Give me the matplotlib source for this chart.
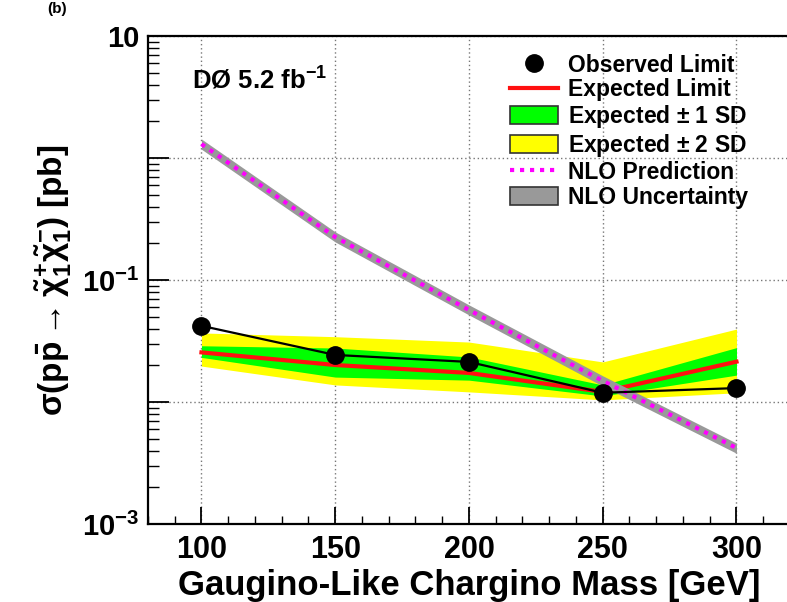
# Limite de seccion eficaz chargino (estilo ROOT)
import numpy as np
import matplotlib
matplotlib.use('Agg')
import matplotlib.pyplot as plt
import matplotlib.transforms as mtransforms
from matplotlib.lines import Line2D
from matplotlib.patches import Patch
from matplotlib.ticker import LogLocator, MultipleLocator, NullFormatter

plt.rcParams['font.family'] = ['Liberation Sans', 'DejaVu Sans']
plt.rcParams['font.weight'] = 'bold'
plt.rcParams['mathtext.fontset'] = 'custom'
plt.rcParams['mathtext.rm'] = 'Liberation Sans:bold'
plt.rcParams['mathtext.it'] = 'Liberation Sans:bold'
plt.rcParams['mathtext.bf'] = 'Liberation Sans:bold'
plt.rcParams['mathtext.sf'] = 'Liberation Sans:bold'
plt.rcParams['mathtext.default'] = 'rm'

# Datos
mass = [100, 150, 200, 250, 300]
observed = [0.0421, 0.0243, 0.0213, 0.0119, 0.0130]
expected = [0.0255, 0.0201, 0.0173, 0.0121, 0.0214]
sd1_lo = [0.0232, 0.0160, 0.0151, 0.0112, 0.0166]
sd1_hi = [0.0289, 0.0277, 0.0234, 0.0138, 0.0279]
sd2_lo = [0.0197, 0.0138, 0.0121, 0.0104, 0.0119]
sd2_hi = [0.0368, 0.0343, 0.0310, 0.0213, 0.0396]
nlo = [1.30, 0.225, 0.0568, 0.0149, 0.0042]
nlo_lo = [1.18, 0.205, 0.0517, 0.0135, 0.0038]
nlo_hi = [1.43, 0.248, 0.0625, 0.0164, 0.0046]

ytick_vals = [1e-3, 1e-2, 1e-1, 1, 10]
ytick_labels = [r'$10^{-3}$', '', r'$10^{-1}$', '', '10']

fig = plt.figure(figsize=(7.87, 6.02), dpi=100)
ax = fig.add_axes([0.188, 0.1296, 0.8158, 0.8106])

# Bandas esperadas
ax.fill_between(mass, sd2_lo, sd2_hi, color='#ffff00', lw=0, zorder=2)
ax.fill_between(mass, sd1_lo, sd1_hi, color='#00ff00', lw=0, zorder=3)
ax.plot(mass, expected, color='#ff1010', lw=3, zorder=4)

# Prediccion NLO
ax.fill_between(mass, nlo_lo, nlo_hi, color='#999999', lw=0, zorder=5)
ax.plot(mass, nlo, color='#ff00ff', lw=3, linestyle=(0, (1, 1.4)), zorder=6)

# Limite observado
ax.plot(mass, observed, color='black', lw=1.6, marker='o', markersize=12.5, zorder=7)

ax.set_yscale('log')
ax.set_xlim(80, 320)
ax.set_ylim(1e-3, 10)
ax.set_yticks(ytick_vals)
ax.set_yticklabels(ytick_labels)
ax.yaxis.set_minor_locator(LogLocator(base=10, subs=np.arange(2, 10)))
ax.yaxis.set_minor_formatter(NullFormatter())
ax.xaxis.set_major_locator(MultipleLocator(50))
ax.xaxis.set_minor_locator(MultipleLocator(10))

ax.tick_params(axis='both', which='both', direction='in', top=False, right=False)
ax.tick_params(axis='y', which='major', length=15, width=1.3, pad=6, labelsize=21)
ax.tick_params(axis='y', which='minor', length=8, width=1.0)
ax.tick_params(axis='x', which='major', length=12, width=1.3, pad=8, labelsize=22)
ax.tick_params(axis='x', which='minor', length=6, width=1.0)
for s in ax.spines.values():
    s.set_linewidth(1.6)

ax.grid(True, which='major', linestyle=(0, (1, 2)), color='#777777', lw=1.0, zorder=1)
ax.set_axisbelow(True)

ax.set_xlabel('Gaugino-Like Chargino Mass [GeV]', fontsize=25, fontweight='bold', labelpad=3)
ax.set_ylabel(r'$\sigma(p\bar{p} \rightarrow \tilde{\chi}^{+}_{1}\tilde{\chi}^{-}_{1})$ [pb]',
              fontsize=24, fontweight='bold', labelpad=6)

# Etiqueta del experimento (x en pixeles, y en datos)
tr = mtransforms.blended_transform_factory(mtransforms.IdentityTransform(), ax.transData)
ax.text(192, 4.3, 'DØ 5.2 fb$^{-1}$', transform=tr, fontsize=18.5,
        fontweight='bold', va='center', ha='left')

fig.text(0.072, 0.985, '(b)', fontsize=11, ha='center', va='center')

# Leyenda
handles = [
    Line2D([], [], color='black', marker='o', linestyle='none', markersize=12.5),
    Line2D([], [], color='#ff1010', lw=3),
    Patch(facecolor='#00ff00', edgecolor='#333333', lw=1.2),
    Patch(facecolor='#ffff00', edgecolor='#333333', lw=1.2),
    Line2D([], [], color='#ff00ff', lw=3, linestyle=(0, (1, 1.4))),
    Patch(facecolor='#999999', edgecolor='#333333', lw=1.2),
]
labels = ['Observed Limit', 'Expected Limit', r'Expected $\pm$ 1 SD',
          r'Expected $\pm$ 2 SD', 'NLO Prediction', 'NLO Uncertainty']
ax.legend(handles, labels, loc='upper left', bbox_to_anchor=(0.648, 0.911),
          bbox_transform=fig.transFigure, frameon=False, fontsize=16.5,
          borderpad=0, borderaxespad=0, handlelength=2.1, handleheight=0.85,
          handletextpad=0.45, labelspacing=0.08)

plt.savefig('out.png', dpi=100)
